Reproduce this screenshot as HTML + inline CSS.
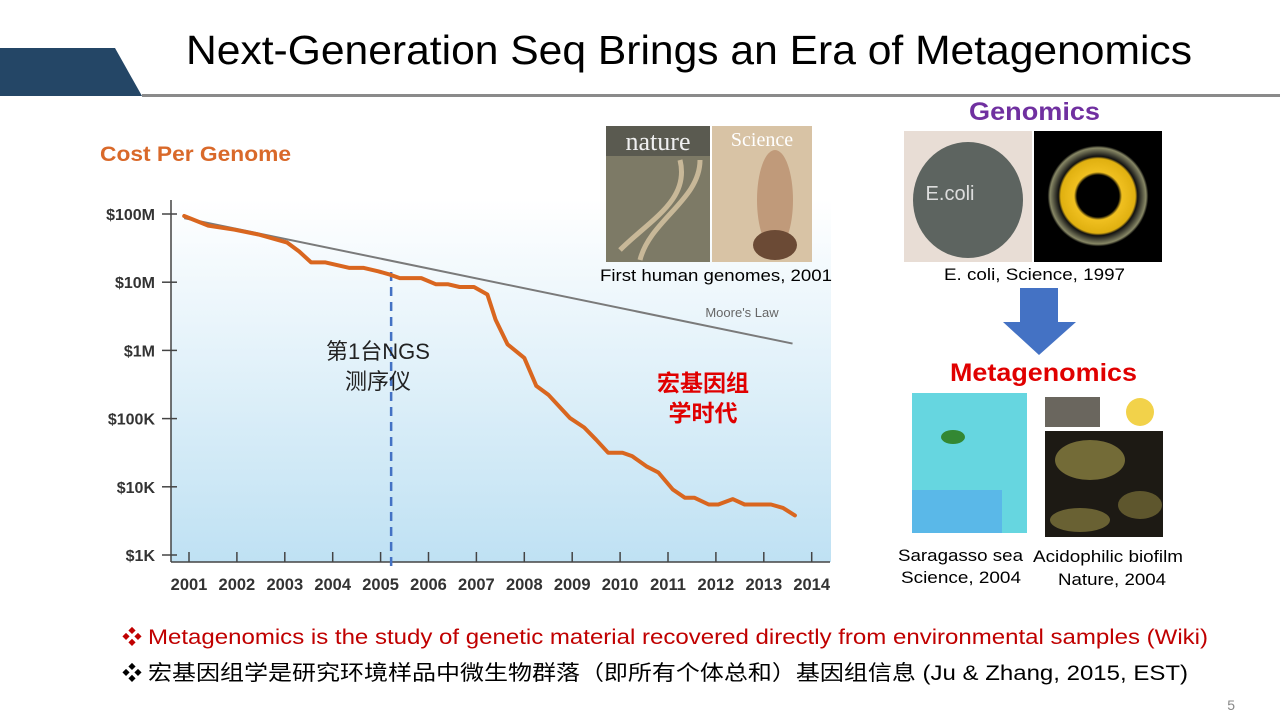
<!DOCTYPE html>
<html><head><meta charset="utf-8"><style>
html,body{margin:0;padding:0;background:#fff;}
svg{display:block;font-family:"Liberation Sans","Noto Sans CJK SC",sans-serif;}
</style></head><body>
<svg id="s" width="1280" height="720" viewBox="0 0 1280 720" xmlns="http://www.w3.org/2000/svg">
<defs>
<linearGradient id="bg" x1="0" y1="0" x2="0" y2="1"><stop offset="0" stop-color="#ffffff"/><stop offset="1" stop-color="#bfe1f3"/></linearGradient>
<radialGradient id="ring" cx="0.5" cy="0.5" r="0.5"><stop offset="0.35" stop-color="#000"/><stop offset="0.4" stop-color="#f0c020"/><stop offset="0.62" stop-color="#e0b010"/><stop offset="0.66" stop-color="#111"/><stop offset="0.8" stop-color="#886"/><stop offset="0.84" stop-color="#000"/></radialGradient>
</defs>
<polygon points="0,48 115,48 142,96 0,96" fill="#244666"/>
<rect x="142" y="94" width="1138" height="3" fill="#8a8a8a"/>
<text x="186" y="64" font-size="41" textLength="1006" lengthAdjust="spacingAndGlyphs" fill="#000">Next-Generation Seq Brings an Era of Metagenomics</text>

<text x="100" y="161" font-size="21" font-weight="bold" textLength="191" lengthAdjust="spacingAndGlyphs" fill="#d9692a">Cost Per Genome</text>
<rect x="171" y="200" width="660" height="362" fill="url(#bg)"/>
<g id="chart"></g>

<text x="378" y="359" font-size="22" text-anchor="middle" fill="#222">第1台NGS</text>
<text x="378" y="389" font-size="22" text-anchor="middle" fill="#222">测序仪</text>
<text x="703" y="391" font-size="23" font-weight="bold" text-anchor="middle" fill="#e00000">宏基因组</text>
<text x="703" y="421" font-size="23" font-weight="bold" text-anchor="middle" fill="#e00000">学时代</text>
<text x="742" y="317" font-size="13" text-anchor="middle" fill="#666">Moore's Law</text>

<g>
<rect x="606" y="126" width="104" height="136" fill="#7d7a66"/>
<rect x="606" y="126" width="104" height="30" fill="#5a5a50"/>
<text x="658" y="150" font-size="26" font-family="Liberation Serif,serif" fill="#f0f0f0" text-anchor="middle">nature</text>
<path d="M620 250 C650 220 690 200 680 160 M640 260 C650 220 700 200 700 160" stroke="#c8b898" stroke-width="5" fill="none"/>
</g>
<g>
<rect x="712" y="126" width="100" height="136" fill="#d8c3a5"/>
<text x="762" y="146" font-size="20" font-family="Liberation Serif,serif" fill="#fff" text-anchor="middle">Science</text>
<ellipse cx="775" cy="200" rx="18" ry="50" fill="#c09a7a"/>
<ellipse cx="775" cy="245" rx="22" ry="15" fill="#6b4a35"/>
</g>
<text x="600" y="281" font-size="17" textLength="232" lengthAdjust="spacingAndGlyphs" fill="#000">First human genomes, 2001</text>

<text x="969" y="120" font-size="25" font-weight="bold" textLength="131" lengthAdjust="spacingAndGlyphs" fill="#7030a0">Genomics</text>
<g>
<rect x="904" y="131" width="128" height="131" fill="#e8ddd5"/>
<ellipse cx="968" cy="200" rx="55" ry="58" fill="#5d6460"/>
<text x="950" y="200" font-size="20" fill="#ddd" text-anchor="middle">E.coli</text>
</g>
<g>
<rect x="1034" y="131" width="128" height="131" fill="#000"/>
<circle cx="1098" cy="196" r="60" fill="url(#ring)"/>
</g>
<text x="944" y="280" font-size="17" textLength="181" lengthAdjust="spacingAndGlyphs" fill="#000">E. coli, Science, 1997</text>
<polygon points="1020,288 1058,288 1058,322 1076,322 1039,355 1003,322 1020,322" fill="#4472c4"/>
<text x="950" y="381" font-size="25" font-weight="bold" textLength="187" lengthAdjust="spacingAndGlyphs" fill="#e00000">Metagenomics</text>
<g>
<rect x="900" y="390" width="130" height="150" fill="#fff"/>
<rect x="912" y="393" width="115" height="140" fill="#66d6e0"/>
<rect x="912" y="490" width="90" height="43" fill="#5ab8e8"/>
<ellipse cx="953" cy="437" rx="12" ry="7" fill="#338833"/>
</g>
<g>
<rect x="1045" y="397" width="55" height="30" fill="#6a665e"/>
<circle cx="1140" cy="412" r="14" fill="#f2d24a"/>
<rect x="1045" y="431" width="118" height="106" fill="#1d1a14"/>
<ellipse cx="1090" cy="460" rx="35" ry="20" fill="#8a8040" opacity="0.8"/>
<ellipse cx="1080" cy="520" rx="30" ry="12" fill="#8a8040" opacity="0.7"/>
<ellipse cx="1140" cy="505" rx="22" ry="14" fill="#7a7038" opacity="0.7"/>
</g>
<text x="898" y="561" font-size="17" textLength="125" lengthAdjust="spacingAndGlyphs" fill="#000">Saragasso sea</text>
<text x="901" y="583" font-size="17" textLength="120" lengthAdjust="spacingAndGlyphs" fill="#000">Science, 2004</text>
<text x="1033" y="562" font-size="17" textLength="150" lengthAdjust="spacingAndGlyphs" fill="#000">Acidophilic biofilm</text>
<text x="1058" y="585" font-size="17" textLength="108" lengthAdjust="spacingAndGlyphs" fill="#000">Nature, 2004</text>

<text x="122" y="644" font-size="20" fill="#c00000">❖</text>
<text x="148" y="644" font-size="21" textLength="1060" lengthAdjust="spacingAndGlyphs" fill="#c00000">Metagenomics is the study of genetic material recovered directly from environmental samples (Wiki)</text>
<text x="122" y="680" font-size="20" fill="#000">❖</text>
<text x="148" y="680" font-size="21" textLength="1040" lengthAdjust="spacingAndGlyphs" fill="#000">宏基因组学是研究环境样品中微生物群落（即所有个体总和）基因组信息 (Ju &amp; Zhang, 2015, EST)</text>
<text x="1235" y="710" font-size="14" text-anchor="end" fill="#888">5</text>
</svg>
<script>
const years = [2000.9,2001.4,2001.95,2002.45,2003.05,2003.3,2003.55,2003.85,2004.35,2004.65,2004.95,2005.2,2005.4,2005.85,2006.15,2006.4,2006.65,2006.95,2007.23,2007.4,2007.65,2008.0,2008.25,2008.5,2008.95,2009.25,2009.5,2009.75,2010.05,2010.25,2010.55,2010.8,2011.1,2011.35,2011.55,2011.85,2012.05,2012.35,2012.6,2013.15,2013.4,2013.65];
const costLog10 = [7.97,7.83,7.77,7.70,7.58,7.45,7.29,7.29,7.21,7.21,7.16,7.11,7.06,7.06,6.97,6.97,6.93,6.93,6.82,6.45,6.09,5.89,5.48,5.35,5.01,4.87,4.69,4.50,4.50,4.45,4.30,4.21,3.96,3.84,3.84,3.74,3.74,3.82,3.74,3.74,3.69,3.58];
const mooreYears = [2000.9, 2013.6];
const mooreLog10 = [7.94, 6.10];
const xTickYears = [2001,2002,2003,2004,2005,2006,2007,2008,2009,2010,2011,2012,2013,2014];
const yTickLogs = [8,7,6,5,4,3];
const yTickLabels = ["$100M","$10M","$1M","$100K","$10K","$1K"];
const ngsYear = 2005.22;

const NS = "http://www.w3.org/2000/svg";
const g = document.getElementById("chart");
const xS = yr => 189 + (yr - 2001) * 47.9;
const yS = lg => 214 + (8 - lg) * 68.2;
function mk(tag, attrs){const e=document.createElementNS(NS,tag);for(const k in attrs)e.setAttribute(k,attrs[k]);g.appendChild(e);return e;}

let e = mk("line",{x1:171,y1:200,x2:171,y2:562,stroke:"#444","stroke-width":1.5});


e = mk("line",{x1:171,y1:562,x2:830,y2:562,stroke:"#444","stroke-width":1.5});



yTickLogs.forEach((v,i)=>{
  const y=yS(v);
  let t=mk("line",{x1:162,y1:y,x2:177,y2:y,stroke:"#444","stroke-width":1.5});
  
  
  let l=mk("text",{x:155,y:y+6,"font-size":16,"font-weight":"bold","text-anchor":"end",fill:"#333"});
  l.textContent=yTickLabels[i];
  
  
});
xTickYears.forEach(yr=>{
  const x=xS(yr);
  let t=mk("line",{x1:x,y1:552,x2:x,y2:562,stroke:"#444","stroke-width":1.5});
  
  
  let l=mk("text",{x:x,y:590,"font-size":16.5,"font-weight":"bold","text-anchor":"middle",fill:"#333"});
  l.textContent=String(yr);
  
  
});

e = mk("line",{x1:xS(mooreYears[0]),y1:yS(mooreLog10[0]),x2:xS(mooreYears[1]),y2:yS(mooreLog10[1]),stroke:"#7a7a7a","stroke-width":2});



e = mk("line",{x1:xS(ngsYear),y1:272,x2:xS(ngsYear),y2:566,stroke:"#4472c4","stroke-width":2.5,"stroke-dasharray":"9,6"});



const pts = years.map((yr,i)=>xS(yr).toFixed(1)+","+yS(costLog10[i]).toFixed(1)).join(" ");
e = mk("polyline",{points:pts,fill:"none",stroke:"#d9661f","stroke-width":4,"stroke-linejoin":"round","stroke-linecap":"round"});


</script>
</body></html>
